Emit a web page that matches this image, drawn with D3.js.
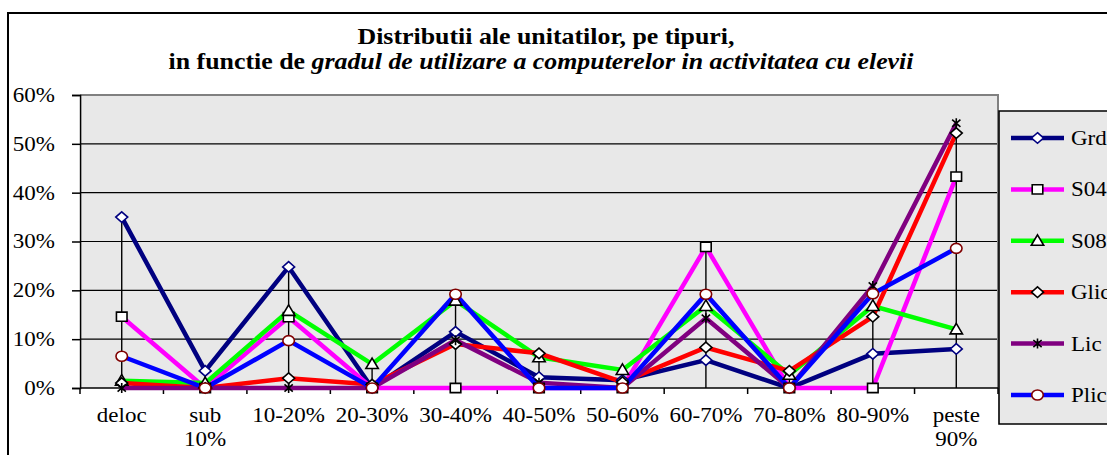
<!DOCTYPE html>
<html>
<head>
<meta charset="utf-8">
<script src="https://cdn.jsdelivr.net/npm/d3@7"></script>
<style>
  body { margin: 0; background: #fff; }
  svg { display: block; }
  svg text { font-family: "Liberation Serif", "Times New Roman", "DejaVu Serif", serif; fill: #000; }
  line, path, rect, circle { vector-effect: non-scaling-stroke; }
</style>
</head>
<body>
<div id="chart-container"></div>
<script>
// categories (x axis)
const categories = ["deloc", "sub 10%", "10-20%", "20-30%", "30-40%", "40-50%",
                    "50-60%", "60-70%", "70-80%", "80-90%", "peste 90%"];
// series values, in percent
const grd  = [35,  3.5, 24.8, 0,   11.5, 2.2, 1.6, 5.7,  0,   7,    8];
const s04  = [14.6, 0,  14.5, 0,   0,    0,   0,   28.9, 0,   0,    43.3];
const s08  = [1.5, 1,   15.8, 4.9, 17.9, 6.3, 3.7, 16.8, 2.7, 16.8, 12];
const glic = [1,   0,   2,    0.7, 9,    7.1, 1.2, 8.3,  3.5, 14.6, 52.2];
const lic  = [0,   0,   0,    0,   9.8,  1.1, 0,   14.3, 0,   20.9, 54.2];
const plic = [6.5, 0,   9.7,  0,   19.2, 0,   0,   19.2, 0,   19.3, 28.6];
const seriesNames = ["Grd", "S04", "S08", "Glic", "Lic", "Plic"];
const yTicks = [0, 10, 20, 30, 40, 50, 60];

const titleLine1 = "Distributii ale unitatilor, pe tipuri,";
const titleLine2a = "in functie de ";
const titleLine2b = "gradul de utilizare a computerelor in activitatea cu elevii";

// the picture is stretched sideways, so draw in narrower units and stretch
const SX = 1.15;
const W = 1107, H = 455;
const px = v => v / SX;
const FONT = '"Liberation Serif", "Times New Roman", "DejaVu Serif", serif';

const series = [
  {name: seriesNames[0], values: grd,  color: "#000080", marker: "diamond",  mstroke: "#000080"},
  {name: seriesNames[1], values: s04,  color: "#ff00ff", marker: "square",   mstroke: "#000"},
  {name: seriesNames[2], values: s08,  color: "#00ff00", marker: "triangle", mstroke: "#000"},
  {name: seriesNames[3], values: glic, color: "#ff0000", marker: "diamond",  mstroke: "#000"},
  {name: seriesNames[4], values: lic,  color: "#800080", marker: "star",     mstroke: "#000"},
  {name: seriesNames[5], values: plic, color: "#0000ff", marker: "circle",   mstroke: "#800000"}
];

const svg = d3.select("#chart-container").append("svg")
    .attr("width", W)
    .attr("height", H)
    .attr("viewBox", `0 0 ${px(W)} ${H}`)
    .attr("preserveAspectRatio", "none")
    .attr("font-family", FONT);

// chart area border
svg.append("rect")
    .attr("x", px(8)).attr("y", 13)
    .attr("width", px(W + 50)).attr("height", H)
    .attr("fill", "#fff").attr("stroke", "#000").attr("stroke-width", 2);

// title
const title = svg.append("g").attr("font-weight", "bold").attr("font-size", 22.5)
    .attr("text-anchor", "middle");
title.append("text").attr("x", px(546)).attr("y", 44).text(titleLine1);
const t2 = title.append("text").attr("x", px(541)).attr("y", 69);
t2.append("tspan").text(titleLine2a);
t2.append("tspan").attr("font-style", "italic").text(titleLine2b);

// plot area
const plotLeft = px(80), plotRight = px(998), plotTop = 95, plotBottom = 388;

const x = d3.scaleBand().domain(categories).range([plotLeft, plotRight]).padding(0);
const cx = d => x(d) + x.bandwidth() / 2;
const y = d3.scaleLinear().domain([0, 60]).range([plotBottom, plotTop]);

svg.append("rect")
    .attr("x", plotLeft).attr("y", plotTop)
    .attr("width", plotRight - plotLeft).attr("height", plotBottom - plotTop)
    .attr("fill", "#e8e8e8");

// gridlines
svg.append("g").selectAll("line")
    .data(yTicks.filter(d => d > 0 && d < 60))
    .enter().append("line")
    .attr("x1", plotLeft).attr("x2", plotRight)
    .attr("y1", d => y(d)).attr("y2", d => y(d))
    .attr("stroke", "#000").attr("stroke-width", 1.2);

// plot border (top/right)
svg.append("path")
    .attr("d", `M${plotLeft},${plotTop}H${plotRight}V${plotBottom}`)
    .attr("fill", "none").attr("stroke", "#808080").attr("stroke-width", 2);

// y axis
const yAxis = svg.append("g")
    .attr("transform", `translate(${plotLeft},0)`)
    .call(d3.axisLeft(y).tickValues(yTicks).tickSize(px(8)).tickPadding(px(17))
        .tickFormat(d => d + "%"));
yAxis.attr("font-family", FONT).attr("font-size", 20);
yAxis.select(".domain").attr("stroke", "#000").attr("stroke-width", 1.5);
yAxis.selectAll(".tick line").attr("stroke", "#000").attr("stroke-width", 1.5);
yAxis.selectAll("text").attr("fill", "#000");

// x axis: line, ticks between categories, labels
svg.append("line")
    .attr("x1", plotLeft).attr("x2", plotRight)
    .attr("y1", plotBottom).attr("y2", plotBottom)
    .attr("stroke", "#000").attr("stroke-width", 1.5);
svg.append("g").selectAll("line")
    .data(categories.concat(["__end"]))
    .enter().append("line")
    .attr("x1", (d, i) => i < categories.length ? x(d) : plotRight)
    .attr("x2", (d, i) => i < categories.length ? x(d) : plotRight)
    .attr("y1", plotBottom).attr("y2", plotBottom + 6)
    .attr("stroke", "#000").attr("stroke-width", 1.5);
const xl = svg.append("g").selectAll("text")
    .data(categories)
    .enter().append("text")
    .attr("text-anchor", "middle")
    .attr("font-size", 20)
    .attr("x", d => cx(d))
    .attr("y", plotBottom + 34);
xl.each(function(d) {
    const parts = d.startsWith("sub") || d.startsWith("peste") ? d.split(" ") : [d];
    const sel = d3.select(this);
    parts.forEach((p, i) => {
        sel.append("tspan").attr("x", cx(d)).attr("dy", i === 0 ? 0 : 24.5).text(p);
    });
});

// series lines
const line = d3.line().x((d, i) => cx(categories[i])).y(d => y(d));
series.forEach(s => {
    svg.append("path")
        .datum(s.values)
        .attr("d", line)
        .attr("fill", "none")
        .attr("stroke", s.color)
        .attr("stroke-width", 4.5)
        .attr("stroke-linejoin", "miter");
});

// drop lines from the highest point to the axis
svg.append("g").selectAll("line")
    .data(categories)
    .enter().append("line")
    .attr("x1", d => cx(d)).attr("x2", d => cx(d))
    .attr("y1", (d, i) => y(d3.max(series, s => s.values[i])))
    .attr("y2", plotBottom)
    .attr("stroke", "#000").attr("stroke-width", 1.4);

// marker shapes
function drawMarker(g, s) {
    if (s.marker === "diamond") {
        g.append("path").attr("d", "M0,-5.3L5.2,0L0,5.3L-5.2,0Z")
            .attr("fill", "#fff").attr("stroke", s.mstroke).attr("stroke-width", 1.6);
    } else if (s.marker === "square") {
        g.append("rect").attr("x", -4.6).attr("y", -4.6).attr("width", 9.2).attr("height", 9.2)
            .attr("fill", "#fff").attr("stroke", s.mstroke).attr("stroke-width", 1.6);
    } else if (s.marker === "triangle") {
        g.append("path").attr("d", "M0,-6L5.4,4.5L-5.4,4.5Z")
            .attr("fill", "#fff").attr("stroke", s.mstroke).attr("stroke-width", 1.6);
    } else if (s.marker === "circle") {
        g.append("circle").attr("r", 5)
            .attr("fill", "#fff").attr("stroke", s.mstroke).attr("stroke-width", 1.6);
    } else {
        g.append("path").attr("d", "M-3.6,-3.6L3.6,3.6M-3.6,3.6L3.6,-3.6M0,-5V5")
            .attr("fill", "none").attr("stroke", s.mstroke).attr("stroke-width", 1.6);
    }
}

series.forEach(s => {
    svg.append("g").selectAll("g")
        .data(s.values)
        .enter().append("g")
        .attr("transform", (d, i) => `translate(${cx(categories[i])},${y(d)})`)
        .each(function() { drawMarker(d3.select(this), s); });
});

// legend
const legend = svg.append("g");
legend.append("rect")
    .attr("x", px(999)).attr("y", 111)
    .attr("width", px(200)).attr("height", 313)
    .attr("fill", "#e8e8e8").attr("stroke", "#000").attr("stroke-width", 1.6);
const ly = d3.scalePoint().domain(seriesNames).range([138, 395]);
series.forEach(s => {
    const g = legend.append("g").attr("transform", `translate(0,${ly(s.name)})`);
    g.append("line").attr("x1", px(1011)).attr("x2", px(1064))
        .attr("stroke", s.color).attr("stroke-width", 4.5);
    const m = g.append("g").attr("transform", `translate(${px(1037.5)},0)`);
    drawMarker(m, s);
    g.append("text").attr("x", px(1071)).attr("y", 7).attr("font-size", 20).text(s.name);
});
</script>
</body>
</html>
